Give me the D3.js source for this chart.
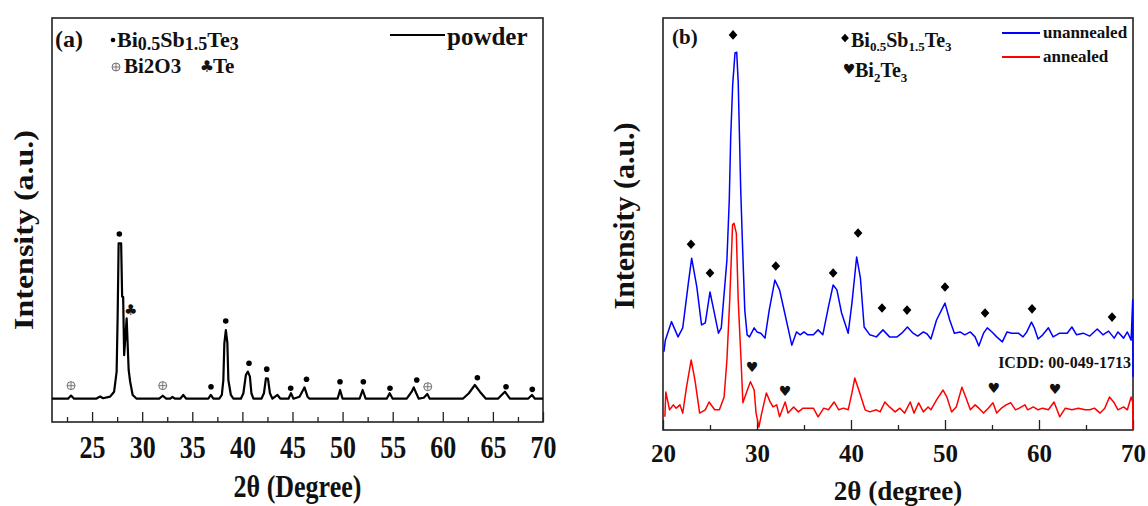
<!DOCTYPE html>
<html>
<head>
<meta charset="utf-8">
<script src="https://cdn.jsdelivr.net/npm/d3@7"></script>
<style>
  html, body { margin: 0; padding: 0; background: #fff; }
  svg { display: block; }
  text { font-family: "Liberation Serif", "Times New Roman", serif; font-weight: bold; fill: #111; }
  .sym { font-family: "DejaVu Sans", sans-serif; font-weight: normal; }
</style>
</head>
<body>
<script>
// ---------- Panel (a): powder XRD pattern ----------
const powderAngle = [21.0, 22.6, 22.9, 23.2, 25.4, 25.8, 26.1, 26.8, 27.2, 27.45, 27.55, 27.65, 27.9, 28.0, 28.1, 28.2, 28.45, 28.65, 28.8, 29.05, 29.45,
  31.7, 32.05, 32.4, 32.8, 33.0, 33.3, 33.8, 34.1, 34.4, 36.6, 36.85, 37.1, 37.7, 37.95, 38.1, 38.2, 38.35, 38.5, 38.6, 38.85, 39.1,
  39.85, 40.1, 40.35, 40.55, 40.75, 40.9, 41.1, 41.9, 42.15, 42.35, 42.55, 42.75, 43.0, 43.5, 43.8, 44.6, 44.85, 45.1,
  45.7, 46.2, 46.5, 46.7, 49.5, 49.75, 50.0, 51.7, 52.0, 52.3, 54.4, 54.7, 55.0, 56.4, 56.9, 57.1, 57.35, 57.6, 58.1, 58.45, 58.7,
  62.0, 62.6, 63.2, 63.7, 64.3, 65.5, 66.2, 66.7, 68.5, 68.9, 69.2, 70.0];
const powderIntensity = [0, 0, 2, 0, 0, 1.4, 0.3, 1.3, 4.5, 17.4, 52.8, 100, 100, 65.6, 65.6, 28, 51.7, 18.5, 10.9, 2.4, 0,
  0, 1.9, 0, 0, 1.1, 0, 0, 2.4, 0, 0, 2.4, 0, 0, 2.4, 12, 35.6, 44.2, 36, 12, 2.4, 0,
  0, 3.5, 15.3, 17.4, 14.2, 3.5, 0, 0, 3.5, 13.1, 13, 3.5, 0, 2.4, 0, 0, 3.5, 0,
  1.3, 7.3, 1.3, 0, 0, 5.6, 0, 0, 5.6, 0, 0, 3.5, 0, 0, 4.5, 7.3, 3.5, 0, 0.6, 3.0, 0,
  0, 3.5, 8.8, 4.5, 0, 0, 4.5, 0, 0, 2.4, 0, 0];

// phase markers in panel (a)
const bstAngleA = [27.72, 36.87, 38.34, 40.66, 42.43, 44.82, 46.4, 49.74, 52.07, 54.73, 57.4, 63.45, 66.31, 68.93];
const bstLevelA = [106, 7.7, 50, 22.8, 19, 6.7, 12.5, 10.9, 10.9, 6.7, 12, 13.5, 7.7, 6];
const oxideAngle = [22.9, 32.05, 58.5];
const oxideLevel = [8.4, 8.4, 7.7];
const teAngle = [28.85];
const teLevel = [57];

const ticksA = [25, 30, 35, 40, 45, 50, 55, 60, 65, 70];
const minorTicksA = [22.5, 27.5, 32.5, 37.5, 42.5, 47.5, 52.5, 57.5, 62.5, 67.5];

// ---------- Panel (b): unannealed vs annealed ----------
const unannealedAngle = [20.1, 20.25, 20.9, 21.6, 22.1, 22.7, 23.05, 23.6, 24.1, 24.5, 25.0, 25.4, 25.9, 26.2, 26.8, 27.05, 27.2, 27.41, 27.66, 27.84,
  28.0, 28.12, 28.26, 28.44, 28.7, 28.95, 29.2, 29.7, 30.0, 30.4, 30.85, 31.3, 31.9, 32.4, 32.95, 33.3, 33.7, 34.2, 34.6, 35.0,
  35.4, 36.0, 36.5, 37.0, 37.6, 38.1, 38.5, 39.0, 39.7, 40.1, 40.6, 41.0, 41.4, 42.0, 42.7, 43.4, 44.1, 44.9, 45.4, 46.0,
  46.6, 47.1, 47.7, 48.1, 48.5, 49.1, 50.0, 50.5, 51.0, 51.6, 52.1, 52.7, 53.2, 53.6, 54.1, 54.5, 55.0, 55.5, 56.1, 56.6,
  57.1, 57.8, 58.3, 58.7, 59.2, 59.5, 59.9, 60.4, 61.0, 61.5, 62.2, 63.0, 63.5, 64.0, 64.7, 65.4, 66.2, 66.8, 67.4, 68.0,
  68.4, 69.0, 69.4, 69.8, 69.97, 70.0];
const unannealedIntensity = [19.0, 21.8, 26.3, 22.6, 24.8, 35.7, 41.7, 34.7, 25.5, 26.0, 33.5, 29.1, 23.5, 24.8, 41.3, 55.8, 70.9, 83.7, 91.5, 91.7,
  84.5, 72.8, 59.0, 46.1, 29.1, 23.1, 22.6, 24.8, 23.8, 23.5, 22.3, 29.1, 36.4, 34.0, 28.4, 24.8, 20.6, 23.8, 23.1, 23.8,
  23.1, 23.1, 24.3, 23.1, 29.9, 35.2, 34.0, 28.4, 23.5, 30.8, 42.0, 36.9, 25.0, 23.1, 22.6, 24.3, 22.6, 22.6, 23.5, 25.0,
  23.5, 22.8, 23.8, 23.3, 22.1, 26.7, 30.8, 26.7, 23.5, 23.8, 23.1, 23.8, 22.6, 20.4, 23.5, 24.8, 23.8, 22.6, 21.4, 23.8,
  23.5, 23.5, 22.6, 23.8, 26.2, 24.8, 22.1, 23.1, 24.8, 22.6, 23.5, 23.5, 25.0, 23.1, 23.5, 22.8, 24.5, 23.1, 24.0, 22.3,
  23.8, 22.3, 23.8, 21.8, 31.6, 12.9];

const annealedAngle = [20.2, 20.3, 20.7, 21.1, 21.4, 21.8, 22.1, 22.5, 23.0, 23.4, 23.9, 24.5, 24.9, 25.5, 26.0, 26.5, 26.8, 27.1, 27.4, 27.55,
  27.8, 28.0, 28.3, 28.5, 28.9, 29.3, 29.7, 29.9, 30.2, 30.5, 31.0, 31.4, 31.7, 32.1, 32.4, 33.0, 33.3, 33.9, 34.4, 34.9,
  35.5, 36.0, 36.5, 37.1, 37.6, 38.2, 38.7, 39.2, 39.7, 40.1, 40.4, 40.9, 41.5, 42.0, 42.7, 43.1, 43.6, 44.1, 44.7, 45.2,
  45.7, 46.3, 46.7, 47.2, 47.7, 48.2, 48.5, 49.1, 49.8, 50.2, 50.7, 51.2, 51.8, 52.2, 52.7, 53.2, 53.6, 54.1, 54.6, 55.1,
  55.5, 56.0, 56.5, 57.0, 57.5, 57.9, 58.5, 58.8, 59.4, 59.9, 60.4, 61.0, 61.6, 62.2, 62.8, 63.5, 64.2, 64.9, 65.4, 65.9,
  66.5, 67.0, 67.5, 68.0, 68.4, 69.0, 69.4, 69.8, 69.97, 70.0];
const annealedIntensity = [3.2, 9.2, 4.9, 6.1, 5.3, 6.1, 4.1, 10.4, 17.0, 12.1, 4.1, 4.9, 6.8, 4.9, 4.9, 8.0, 17.0, 31.6, 49.8, 50.2,
  47.8, 31.6, 17.0, 6.6, 9.2, 11.7, 9.7, 4.1, 0.7, 4.1, 9.0, 6.8, 5.6, 6.1, 3.2, 6.8, 4.1, 5.6, 4.4, 5.3,
  5.3, 5.3, 3.2, 5.3, 4.9, 6.8, 4.9, 5.3, 4.9, 9.0, 12.6, 9.2, 4.9, 4.4, 4.9, 4.4, 6.8, 5.6, 4.4, 5.3,
  4.1, 6.8, 4.1, 6.6, 4.4, 5.6, 4.9, 7.3, 9.7, 8.0, 4.4, 5.6, 10.4, 8.0, 4.9, 6.1, 5.3, 4.1, 5.3, 6.6,
  4.1, 5.3, 6.1, 6.6, 4.9, 5.3, 6.1, 4.9, 5.6, 4.9, 5.3, 4.9, 6.8, 3.2, 5.3, 4.9, 5.3, 4.9, 4.9, 5.3,
  4.1, 5.3, 8.0, 6.6, 4.9, 5.6, 4.9, 8.0, 6.8, 0];

// phase markers in panel (b)
const bstAngleB = [22.98, 25.0, 27.45, 32.0, 38.1, 40.75, 43.3, 45.96, 50.0, 54.26, 59.26, 67.77];
const bstLevelB = [45.1, 38.1, 95.9, 39.8, 38.1, 47.8, 29.6, 29.1, 34.7, 28.4, 29.4, 27.4];
const bi2te3Angle = [29.47, 32.98, 55.2, 61.7];
const bi2te3Level = [15.3, 9.5, 10.2, 10.0];

const ticksB = [20, 30, 40, 50, 60, 70];
const minorTicksB = [25, 35, 45, 55, 65];

const zip = (xs, ys) => xs.map((x, i) => [x, ys[i]]);

const svg = d3.select("body").append("svg").attr("width", 1148).attr("height", 506);

// ---------------- panel (a) ----------------
const xA = d3.scaleLinear().domain([21, 70]).range([52, 543]);
const yA = d3.scaleLinear().domain([-15, 245]).range([422, 18]);
const gA = svg.append("g");

gA.append("rect").attr("x", 52).attr("y", 18).attr("width", 491).attr("height", 404)
  .attr("fill", "none").attr("stroke", "#222").attr("stroke-width", 1.6);

const axA = gA.append("g").attr("transform", "translate(0,422)")
  .call(d3.axisBottom(xA).tickValues(ticksA).tickSizeInner(-10).tickSizeOuter(0).tickFormat(d3.format("d")));
axA.select(".domain").remove();
axA.selectAll(".tick line").attr("stroke", "#222").attr("stroke-width", 1.3);
axA.selectAll(".tick text").attr("y", 0).attr("dy", null)
  .attr("transform", "translate(0,36) scale(1,1.2)")
  .style("font-size", "26px").style("font-family", "'Liberation Serif', serif").style("font-weight", "bold").attr("fill", "#111");
const axAm = gA.append("g").attr("transform", "translate(0,422)")
  .call(d3.axisBottom(xA).tickValues(minorTicksA).tickSizeInner(-5).tickSizeOuter(0).tickFormat(""));
axAm.select(".domain").remove();
axAm.selectAll(".tick line").attr("stroke", "#222").attr("stroke-width", 1.3);

const lineA = d3.line().x(d => xA(d[0])).y(d => yA(d[1]));
gA.append("path").datum(zip(powderAngle, powderIntensity)).attr("d", lineA)
  .attr("fill", "none").attr("stroke", "#000").attr("stroke-width", 2.2).attr("stroke-linejoin", "round");

gA.selectAll("circle.bst").data(zip(bstAngleA, bstLevelA)).join("circle").attr("class", "bst")
  .attr("cx", d => xA(d[0])).attr("cy", d => yA(d[1])).attr("r", 2.8).attr("fill", "#000");

function oxideMark(g, cx, cy, r) {
  const m = g.append("g").attr("transform", `translate(${cx},${cy})`);
  m.append("circle").attr("r", r).attr("fill", "#f2f2f2").attr("stroke", "#666").attr("stroke-width", 0.9);
  m.append("path").attr("d", `M${-r},0H${r}M0,${-r}V${r}`).attr("stroke", "#666").attr("stroke-width", 0.8);
}
zip(oxideAngle, oxideLevel).forEach(d => oxideMark(gA, xA(d[0]), yA(d[1]), 4));

gA.selectAll("text.te").data(zip(teAngle, teLevel)).join("text").attr("class", "te sym")
  .attr("x", d => xA(d[0])).attr("y", d => yA(d[1]) + 5).attr("text-anchor", "middle")
  .style("font-size", "15px").text("\u2663");

// legend (a)
gA.append("text").attr("x", 55).attr("y", 47).style("font-size", "24px").text("(a)");
gA.append("circle").attr("cx", 113).attr("cy", 40).attr("r", 2.3).attr("fill", "#000");
const tA1 = gA.append("text").attr("x", 117).attr("y", 47).style("font-size", "22px");
tA1.append("tspan").text("Bi");
tA1.append("tspan").attr("dy", 3).style("font-size", "18px").text("0.5");
tA1.append("tspan").attr("dy", -3).text("Sb");
tA1.append("tspan").attr("dy", 3).style("font-size", "18px").text("1.5");
tA1.append("tspan").attr("dy", -3).text("Te");
tA1.append("tspan").attr("dy", 3).style("font-size", "18px").text("3");
oxideMark(gA, 116, 67, 4);
gA.append("text").attr("x", 124).attr("y", 73).style("font-size", "21px").text("Bi2O3");
gA.append("text").attr("class", "sym").attr("x", 207).attr("y", 72).attr("text-anchor", "middle")
  .style("font-size", "16px").text("\u2663");
gA.append("text").attr("x", 213).attr("y", 73).style("font-size", "21px").text("Te");
gA.append("line").attr("x1", 390).attr("x2", 445).attr("y1", 35).attr("y2", 35)
  .attr("stroke", "#000").attr("stroke-width", 2.2);
gA.append("text").attr("x", 447).attr("y", 45).style("font-size", "25px").text("powder");

// axis titles (a)
gA.append("text").attr("transform", "translate(297.5,497) scale(1,1.2)").attr("text-anchor", "middle")
  .style("font-size", "26px").text("2\u03B8 (Degree)");
gA.append("text").attr("transform", "translate(33,230) rotate(-90)").attr("text-anchor", "middle")
  .attr("textLength", 200).attr("lengthAdjust", "spacingAndGlyphs")
  .style("font-size", "27px").text("Intensity (a.u.)");

// ---------------- panel (b) ----------------
const xB = d3.scaleLinear().domain([20, 70]).range([663, 1133]);
const yB = d3.scaleLinear().domain([0, 100]).range([430, 18]);
const gB = svg.append("g");

gB.append("rect").attr("x", 663).attr("y", 18).attr("width", 470).attr("height", 412)
  .attr("fill", "none").attr("stroke", "#222").attr("stroke-width", 1.6);

const axB = gB.append("g").attr("transform", "translate(0,430)")
  .call(d3.axisBottom(xB).tickValues(ticksB).tickSizeInner(-10).tickSizeOuter(0).tickFormat(d3.format("d")));
axB.select(".domain").remove();
axB.selectAll(".tick line").attr("stroke", "#222").attr("stroke-width", 1.3);
axB.selectAll(".tick text").attr("y", 32).attr("dy", null)
  .style("font-size", "25px").style("font-family", "'Liberation Serif', serif").style("font-weight", "bold").attr("fill", "#111");
const axBm = gB.append("g").attr("transform", "translate(0,430)")
  .call(d3.axisBottom(xB).tickValues(minorTicksB).tickSizeInner(-5).tickSizeOuter(0).tickFormat(""));
axBm.select(".domain").remove();
axBm.selectAll(".tick line").attr("stroke", "#222").attr("stroke-width", 1.3);

const lineB = d3.line().x(d => xB(d[0])).y(d => yB(d[1]));
gB.append("path").datum(zip(unannealedAngle, unannealedIntensity)).attr("d", lineB)
  .attr("fill", "none").attr("stroke", "#0000ff").attr("stroke-width", 1.5).attr("stroke-linejoin", "round");
gB.append("path").datum(zip(annealedAngle, annealedIntensity)).attr("d", lineB)
  .attr("fill", "none").attr("stroke", "#ff0000").attr("stroke-width", 1.5).attr("stroke-linejoin", "round");

const diamond = d3.symbol().type(d3.symbolDiamond2 || d3.symbolDiamond).size(48);
gB.selectAll("path.bst").data(zip(bstAngleB, bstLevelB)).join("path").attr("class", "bst")
  .attr("d", diamond).attr("transform", d => `translate(${xB(d[0])},${yB(d[1])}) scale(1,1.1)`).attr("fill", "#000");
gB.selectAll("text.bt").data(zip(bi2te3Angle, bi2te3Level)).join("text").attr("class", "bt sym")
  .attr("x", d => xB(d[0])).attr("y", d => yB(d[1]) + 5).attr("text-anchor", "middle")
  .style("font-size", "14px").text("\u2665");

// legend (b)
gB.append("text").attr("x", 672).attr("y", 44).style("font-size", "21px").text("(b)");
gB.append("path").attr("d", diamond).attr("transform", "translate(845,38) scale(0.9,1)").attr("fill", "#000");
const tB1 = gB.append("text").attr("x", 851).attr("y", 47).style("font-size", "20px");
tB1.append("tspan").text("Bi");
tB1.append("tspan").attr("dy", 4).style("font-size", "13px").text("0.5");
tB1.append("tspan").attr("dy", -4).text("Sb");
tB1.append("tspan").attr("dy", 4).style("font-size", "13px").text("1.5");
tB1.append("tspan").attr("dy", -4).text("Te");
tB1.append("tspan").attr("dy", 4).style("font-size", "13px").text("3");
gB.append("text").attr("class", "sym").attr("x", 849).attr("y", 74).attr("text-anchor", "middle")
  .style("font-size", "14px").text("\u2665");
const tB2 = gB.append("text").attr("x", 855).attr("y", 77).style("font-size", "20px");
tB2.append("tspan").text("Bi");
tB2.append("tspan").attr("dy", 5).style("font-size", "13px").text("2");
tB2.append("tspan").attr("dy", -5).text("Te");
tB2.append("tspan").attr("dy", 5).style("font-size", "13px").text("3");

gB.append("line").attr("x1", 1002).attr("x2", 1040).attr("y1", 33).attr("y2", 33)
  .attr("stroke", "#0000ff").attr("stroke-width", 2);
gB.append("text").attr("x", 1043).attr("y", 38).style("font-size", "17px").text("unannealed");
gB.append("line").attr("x1", 1002).attr("x2", 1040).attr("y1", 57).attr("y2", 57)
  .attr("stroke", "#ff0000").attr("stroke-width", 2);
gB.append("text").attr("x", 1043).attr("y", 62).style("font-size", "17px").text("annealed");

gB.append("text").attr("x", 1131).attr("y", 368).attr("text-anchor", "end")
  .style("font-size", "16px").attr("fill", "#222").text("ICDD: 00-049-1713");

// axis titles (b)
gB.append("text").attr("x", 898).attr("y", 500).attr("text-anchor", "middle")
  .style("font-size", "27px").text("2\u03B8 (degree)");
gB.append("text").attr("transform", "translate(634,216) rotate(-90)").attr("text-anchor", "middle")
  .attr("textLength", 187).attr("lengthAdjust", "spacingAndGlyphs")
  .style("font-size", "29px").text("Intensity (a.u.)");
</script>
</body>
</html>
